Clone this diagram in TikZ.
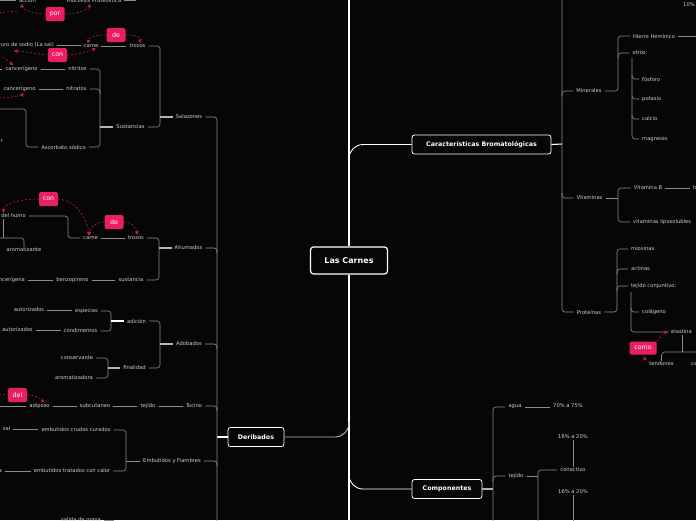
\documentclass[tikz,border=0pt]{standalone}
\usepackage{fontspec}
\setmainfont{DejaVu Sans}
\usepackage{tikz}
\usetikzlibrary{arrows.meta,positioning,calc}
\definecolor{canvas}{HTML}{060608}
\definecolor{wire}{HTML}{8C8C8C}
\definecolor{stubgray}{HTML}{B4B4B4}
\definecolor{leafink}{HTML}{D0D0D0}
\definecolor{tagpink}{HTML}{E91E63}
\definecolor{tagline}{HTML}{C2185B}
\tikzset{
  rootbox/.style={draw=white,fill=canvas,line width=1.2pt,rounded corners=3pt,
                  text=white,font=\fontsize{8}{9}\selectfont\bfseries,
                  minimum width=77pt,minimum height=27pt,inner sep=2pt},
  topicbox/.style={draw=white,fill=canvas,line width=0.8pt,rounded corners=2.5pt,
                   text=white,font=\fontsize{6.3}{7}\selectfont\bfseries,
                   minimum height=19pt,inner sep=2pt},
  leaf/.style={text=leafink,font=\fontsize{5.2}{6}\selectfont,inner xsep=3pt,inner ysep=1pt},
  tag/.style={fill=tagpink,rounded corners=1.5pt,text=white,
              font=\fontsize{6.3}{7}\selectfont,minimum width=19pt,minimum height=14pt,inner xsep=3pt},
  link/.style={draw=wire,line width=0.6pt,rounded corners=3pt},
  stub/.style={draw=stubgray,line width=1.1pt},
  trunk/.style={draw=white,line width=1.4pt},
  branch/.style={draw=white,line width=0.9pt,rounded corners=14pt},
  relarr/.style={draw=tagline,line width=0.6pt,dash pattern=on 2pt off 2pt,
                 -{Triangle[length=3.5pt,width=3.5pt]}},
  reldash/.style={draw=tagline,line width=0.6pt,dash pattern=on 2pt off 2pt}
}

\begin{document}
\begin{tikzpicture}[x=1pt,y=-1pt]
  \fill[canvas] (0,0) rectangle (696,520);
  \useasboundingbox (0,0) rectangle (696,520);
  \clip (0,0) rectangle (696,520);

  \coordinate (trunkTop) at (349,-5);
  \coordinate (trunkBot) at (349,525);
  \node[rootbox] (root) at (349,260.5) {Las Carnes};
  \draw[trunk] (trunkTop) -- (root.north);
  \draw[trunk] (root.south) -- (trunkBot);

  \node[topicbox,minimum width=139pt] (carac) at (481.5,144.5) {Características Bromatológicas};
  \node[topicbox,minimum width=56pt] (der) at (256,437) {Deribados};
  \node[topicbox,minimum width=70pt] (comp) at (447,489) {Componentes};
  \draw[branch] ($(carac.west -| root.north)+(0,16)$) |- (carac.west);
  \draw[branch] ($(comp.west -| root.south)+(0,-16)$) |- (comp.west);
  \draw[branch,draw=wire!60!white] ($(der.east -| root.south)+(0,-16)$) |- (der.east);

  % Deribados
  \coordinate (jDer) at (217,437);
  \coordinate (derBot) at (217,525);
  \draw[stub,draw=white] (jDer) -- (der.west);

  \node[leaf] (accion) at (27.5,0.5) {acción};
  \node[leaf] (hidro) at (94,0.5) {Hidrolisis Proteolítica};
  \coordinate (accL) at (-5,0.5);
  \coordinate (hidroR) at (136,0.5);
  \draw[link] (accL) -- (accion.west);
  \draw[link] (hidro.east) -- (hidroR);
  \node[tag] (tagPor) at (55,14) {por};
  \coordinate (porOff) at (-5,13);
  \coordinate (porMid) at (17,11);
  \draw[reldash] (porOff) -- (porMid);
  \draw[relarr] (tagPor.west) .. controls +(-14,0) and +(1,5) .. ([xshift=-6pt]accion.south);
  \draw[relarr] (tagPor.east) .. controls +(14,0) and +(-1,5) .. ([xshift=-4pt]hidro.south);

  \node[leaf] (salaz) at (189,117) {Salazones};
  \node[leaf] (trozosS) at (137.5,46) {trozos};
  \node[leaf] (carneS) at (91,46) {carne};
  \node[leaf,anchor=east] (sodio) at (57,45) {Cloruro de sodio (La sal)};
  \node[leaf] (sust) at (130.5,127) {Sustancias};
  \node[leaf] (nitritos) at (77.5,69) {nitritos};
  \node[leaf] (cancA) at (21.5,69) {cancerígeno};
  \node[leaf] (nitratos) at (76.5,89) {nitratos};
  \node[leaf] (cancB) at (19.5,89) {cancerígeno};
  \node[leaf] (ascorb) at (63.5,147) {Ascorbato sódico};
  \node[leaf,anchor=east] (rLeaf) at (6,141) {r};
  \coordinate (jSal) at (160,117);
  \coordinate (jSus) at (100,127);
  \coordinate (jAsc) at (26,128);
  \coordinate (ascL) at (-5,109);
  \coordinate (cancAL) at (-5,69);
  \draw[link] (trozosS.east) -| (jSal) |- (sust.east);
  \draw[stub] (jSal) -- (salaz.west);
  \draw[link] (carneS) -- (trozosS);
  \draw[link] (sodio.east) -- (sodio.east -| carneS.west);
  \draw[link] (nitritos.east) -| (jSus) |- (ascorb.east);
  \draw[link] (nitratos.east) -| ($(nitratos.east -| jSus)+(0,5)$);
  \draw[stub] (jSus) -- (sust.west);
  \draw[link] (cancA) -- (nitritos);
  \draw[link] (cancB) -- (nitratos);
  \draw[link] (cancAL) -- (cancA.west);
  \draw[link] (ascorb.west) -| (jAsc) |- (ascL);
  \node[tag] (tagDeS) at (116,35) {de};
  \draw[relarr] (tagDeS.west) .. controls +(-12,0) and +(1,-6) .. ([xshift=-3pt]carneS.north);
  \draw[relarr] (tagDeS.east) .. controls +(12,0) and +(-1,-6) .. ([xshift=3pt]trozosS.north);
  \node[tag] (tagConS) at (57.5,55) {con};
  \coordinate (conTip) at (14,51);
  \coordinate (conOff) at (-5,55);
  \coordinate (rOff) at (-5,98);
  \draw[relarr] (tagConS.west) .. controls +(-12,-1) and +(10,0) .. (conTip);
  \draw[relarr] (tagConS.east) .. controls +(16,-1) and +(-8,2) .. ([xshift=5pt]carneS.south);
  \draw[relarr] (conOff) .. controls +(8,0) and +(-4,-3) .. ([xshift=-8pt]cancA.north);
  \draw[relarr] (rOff) .. controls +(12,0) and +(-2,3) .. ([xshift=4pt]cancB.south);

  \node[leaf] (ahum) at (188.5,248) {Ahumados};
  \node[leaf] (trozosA) at (136,238) {trozos};
  \node[leaf] (carneA) at (90.5,238) {carne};
  \node[leaf] (sustA) at (131,280) {sustancia};
  \node[leaf] (benzo) at (72.5,280) {benzopireno};
  \node[leaf,anchor=east] (cancC) at (28,280) {cancerígena};
  \node[leaf] (humo) at (13.5,216) {del humo};
  \node[leaf] (aroma) at (24,250) {aromatizante};
  \coordinate (jAhu) at (159,248);
  \coordinate (jHumo) at (68,227);
  \coordinate (jAro) at (3,238);
  \coordinate (aroL) at (-5,238);
  \draw[link] (trozosA.east) -| (jAhu) |- (sustA.east);
  \draw[stub] (jAhu) -- (ahum.west);
  \draw[link] (carneA) -- (trozosA);
  \draw[link] (benzo) -- (sustA);
  \draw[link] (cancC.east) -- (benzo.west);
  \draw[link] (humo.east) -| (jHumo) |- (carneA.west);
  \draw[link] (jAro |- humo.south) -- (jAro);
  \draw[link] (aroL) -| (aroma.north);
  \node[tag] (tagConA) at (48.5,199) {con};
  \draw[relarr] (tagConA.west) .. controls +(-22,0) and +(0,-8) .. ([xshift=-10pt]humo.north);
  \draw[relarr] (tagConA.east) .. controls +(22,2) and +(0,-10) .. ([xshift=-2pt]carneA.north);
  \node[tag] (tagDeA) at (114,222) {de};
  \draw[relarr] (tagDeA.west) .. controls +(-10,0) and +(0,-5) .. ([xshift=-1pt]carneA.north);
  \draw[relarr] (tagDeA.east) .. controls +(10,0) and +(0,-5) .. ([xshift=1pt]trozosA.north);

  \node[leaf] (adob) at (189,344) {Adobados};
  \node[leaf] (adic) at (136.5,321) {adición};
  \node[leaf] (final) at (134.5,368) {finalidad};
  \node[leaf] (espec) at (86.5,311) {especias};
  \node[leaf] (condim) at (80.5,331) {condimentos};
  \node[leaf] (autA) at (29,310) {autorizados};
  \node[leaf] (autB) at (17.5,330) {autorizados};
  \node[leaf] (conserv) at (77,358) {conservante};
  \node[leaf] (aromad) at (74,378) {aromatizadora};
  \coordinate (jAdo) at (160,344);
  \coordinate (jAdi) at (111,321);
  \coordinate (jFin) at (108,368);
  \draw[link] (adic.east) -| (jAdo) |- (final.east);
  \draw[stub] (jAdo) -- (adob.west);
  \draw[link] (espec.east) -| (jAdi) |- (condim.east);
  \draw[stub,draw=white] (jAdi) -- (adic.west);
  \draw[link] (conserv.east) -| (jFin) |- (aromad.east);
  \draw[stub] (jFin) -- (final.west);
  \draw[link] (autA.east) -- (autA.east -| espec.west);
  \draw[link] (autB.east) -- (autB.east -| condim.west);

  \node[leaf] (tocino) at (194,406) {Tocino};
  \node[leaf] (tejT) at (148,406) {tejido};
  \node[leaf] (subcut) at (95,406) {subcutaneo};
  \node[leaf] (adipo) at (39.5,406) {adiposo};
  \coordinate (adipoL) at (-5,406);
  \draw[link] (tejT) -- (tocino);
  \draw[link] (subcut) -- (tejT);
  \draw[link] (adipo) -- (subcut);
  \draw[link] (adipoL) -- (adipo.west);
  \node[tag] (tagDel) at (17.5,395) {del};
  \coordinate (delOff) at (-5,394);
  \draw[reldash] (delOff) -- (tagDel.west);
  \draw[relarr] (tagDel.east) .. controls +(10,0) and +(-4,-3) .. ([xshift=5pt]adipo.north);

  \node[leaf] (embut) at (172,461) {Embutidos y Fiambres};
  \node[leaf] (crudos) at (76,430) {embutidos crudos curados};
  \node[leaf] (tratados) at (72,471) {embutidos tratados con calor};
  \node[leaf] (sal) at (6.5,429) {sal};
  \node[leaf,anchor=east] (aLeaf) at (5,471) {a};
  \coordinate (jEmb) at (126,461);
  \draw[link] (crudos.east) -| (jEmb) |- (tratados.east);
  \draw[link] (jEmb) -- (embut.west);
  \draw[link] (sal.east) -- (sal.east -| crudos.west);
  \draw[link] (aLeaf.east) -- (tratados.west);

  \node[leaf] (grasa) at (81,520.5) {salida de grasa};
  \coordinate (grasaR) at (114,520.5);
  \draw[link] (grasa.east) -- (grasaR);

  \draw[link] (salaz.east) -| (jDer) -- (derBot);
  \draw[link] (ahum.east) -| ($(ahum.east -| jDer)+(0,5)$);
  \draw[link] (adob.east) -| ($(adob.east -| jDer)+(0,5)$);
  \draw[link] (tocino.east) -| ($(tocino.east -| jDer)+(0,5)$);
  \draw[link] (embut.east) -| ($(embut.east -| jDer)+(0,5)$);

  % Caracteristicas
  \coordinate (jCar) at (562,144);
  \coordinate (carTop) at (562,-5);
  \draw[stub,draw=white] (carac.east) -- (jCar);
  \node[leaf] (miner) at (589,91) {Minerales};
  \node[leaf] (vitam) at (589.5,198) {Vitaminas};
  \node[leaf] (prot) at (589,312) {Proteínas};
  \draw[link] (carTop) |- (prot.west);
  \draw[link] ($(miner.west -| jCar)+(0,5)$) |- (miner.west);
  \draw[link] ($(vitam.west -| jCar)+(0,-5)$) |- (vitam.west);
  \node[leaf,anchor=west] (pct10) at (680,5) {10\%};

  \node[leaf] (hierro) at (654,36) {Hierro Hemínico};
  \node[leaf] (otros) at (640,53) {otros:};
  \coordinate (jMin) at (618,91);
  \coordinate (hierroR) at (700,36);
  \draw[link] (miner.east) -- (jMin) |- (hierro.west);
  \draw[link] ($(otros.west -| jMin)+(0,5)$) |- (otros.west);
  \draw[link] (hierro.east) -- (hierroR);
  \node[leaf,anchor=west] (fosf) at (639,79) {fósforo};
  \node[leaf,anchor=west] (potas) at (639,99) {potasio};
  \node[leaf,anchor=west] (calc) at (639,119) {calcio};
  \node[leaf,anchor=west] (magn) at (639,139) {magnesio};
  \coordinate (jOtr) at (632,58);
  \draw[link] (jOtr) |- (magn.west);
  \draw[link] ($(fosf.west -| jOtr)+(0,-4)$) |- (fosf.west);
  \draw[link] ($(potas.west -| jOtr)+(0,-4)$) |- (potas.west);
  \draw[link] ($(calc.west -| jOtr)+(0,-4)$) |- (calc.west);

  \node[leaf] (vitB) at (648,188) {Vitamina B};
  \node[leaf,anchor=west] (lipo) at (630,222) {vitaminas liposolubles};
  \node[leaf,anchor=west] (hidroso) at (690,188) {hidrosolubles};
  \coordinate (jVit) at (618,198);
  \draw[link] (vitam.east) -- (jVit);
  \draw[link] (vitB.west) -| (jVit) |- (lipo.west);
  \draw[link] (vitB.east) -- (hidroso.west);

  \node[leaf,anchor=west] (mios) at (628,249) {miosinas};
  \node[leaf,anchor=west] (actin) at (628,269) {actinas};
  \node[leaf,anchor=west] (tejc) at (628,286) {tejido conjuntivo:};
  \node[leaf,anchor=west] (colag) at (639,312) {colágeno};
  \node[leaf,anchor=west] (elast) at (668,332) {elastina};
  \coordinate (jProt) at (617,312);
  \coordinate (jTej) at (631,292);
  \draw[link] (prot.east) -- (jProt) |- (mios.west);
  \draw[link] ($(actin.west -| jProt)+(0,5)$) |- (actin.west);
  \draw[link] ($(tejc.west -| jProt)+(0,5)$) |- (tejc.west);
  \draw[link] (jTej) |- (elast.west);
  \draw[link] ($(colag.west -| jTej)+(0,-4)$) |- (colag.west);

  \node[leaf] (tend) at (661.5,364) {tendones};
  \node[leaf,anchor=west] (cart) at (688,364) {cartílagos};
  \coordinate (jTend) at (682,352);
  \coordinate (tendR) at (700,352);
  \draw[link] (elast.south -| jTend) -- (jTend);
  \draw[link] (tendR) -| (tend.north);
  \node[tag,minimum width=27pt,minimum height=13pt] (tagComo) at (643,348) {como};
  \draw[relarr] (tagComo.north east) .. controls +(5,-5) and +(-6,1) .. (elast.west);
  \draw[relarr] (tagComo.south) .. controls +(0,4) and +(-2,-3) .. (tend.north west);

  % Componentes
  \coordinate (jComp) at (493,489);
  \coordinate (compBot) at (493,525);
  \draw[stub] (comp.east) -- (jComp);
  \node[leaf] (agua) at (515,407) {agua};
  \node[leaf] (pct70) at (568,406) {70\% a 75\%};
  \node[leaf] (tejC) at (516,476) {tejido};
  \node[leaf] (conect) at (573,470) {conectivo};
  \node[leaf] (pctA) at (573,437) {16\% a 20\%};
  \node[leaf] (pctB) at (573,492) {16\% a 20\%};
  \coordinate (jTejC) at (538,476);
  \coordinate (tejCBot) at (538,525);
  \coordinate (pctBot) at (573,525);
  \draw[link] (compBot) |- (agua.west);
  \draw[link] ($(tejC.west -| jComp)+(0,5)$) |- (tejC.west);
  \draw[link] (agua.east) -- (agua.east -| pct70.west);
  \draw[link] (tejC.east) -- (jTejC);
  \draw[link] (tejCBot) |- (conect.west);
  \draw[link] (pctA.south) -- (conect.north);
  \draw[link] (pctB.south) -- (pctBot);
\end{tikzpicture}
\end{document}
